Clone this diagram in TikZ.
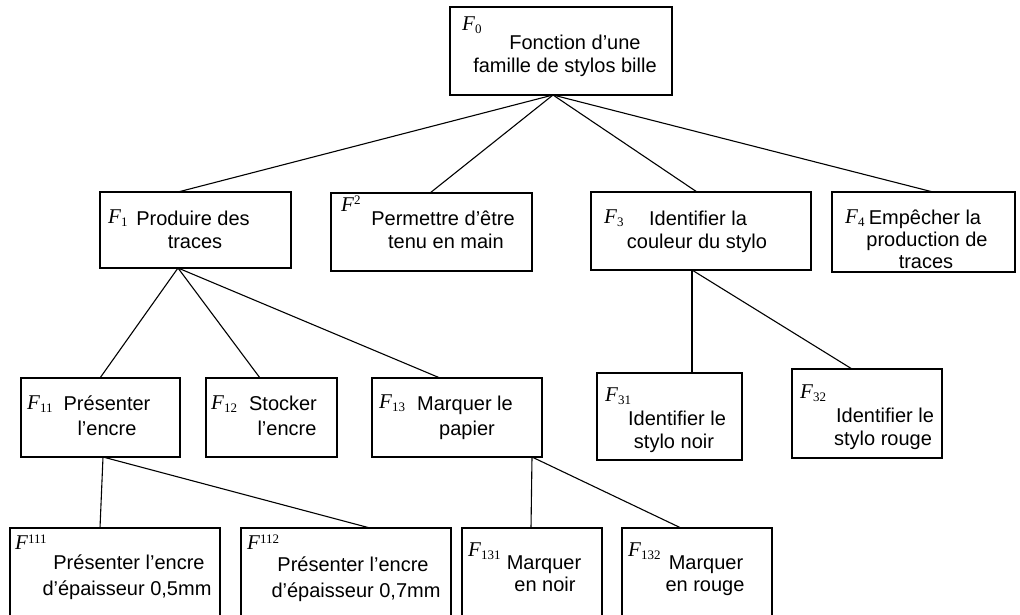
\documentclass[tikz,border=0pt]{standalone}
\usepackage{fontspec}
\setmainfont{Liberation Sans}
\newfontfamily\serf{Liberation Serif}
\usetikzlibrary{fit}
\newcommand{\FL}[2]{{\serf\itshape F}\raisebox{#2}{\serf\fontsize{13}{13}\selectfont #1}}
\begin{document}
\begin{tikzpicture}[x=1pt,y=-1pt,
  box/.style={draw, line width=1.1pt, inner sep=0pt},
  link/.style={line width=1.1pt},
  txt/.style={inner sep=0pt, anchor=base, font=\fontsize{20}{23}\selectfont},
  lab/.style={inner sep=0pt, anchor=base west, font=\fontsize{21}{21}\selectfont}]
\clip (0,0) rectangle (1020,615);
\fill[white] (0,0) rectangle (1020,615);
% boxes
\node[box, fit={(450,7) (672,95)}] (F0) {};
\node[box, fit={(100,192) (291,268)}] (F1) {};
\node[box, fit={(331,193) (532,271)}] (F2) {};
\node[box, fit={(591,192) (811,270)}] (F3) {};
\node[box, fit={(832,192) (1015,272)}] (F4) {};
\node[box, fit={(21,378) (180,457)}] (F11) {};
\node[box, fit={(206,378) (337,457)}] (F12) {};
\node[box, fit={(372,378) (542,457)}] (F13) {};
\node[box, fit={(597,373) (742,460)}] (F31) {};
\node[box, fit={(792,369) (942,458)}] (F32) {};
\node[box, fit={(10,528) (220,630)}] (F111) {};
\node[box, fit={(241,528) (451,630)}] (F112) {};
\node[box, fit={(462,528) (602,630)}] (F131) {};
\node[box, fit={(622,528) (772,630)}] (F132) {};
% labels
\node[lab] (L0) at (462,31) {\FL{0}{-3pt}};
\node[lab] (L1) at (108,223) {\FL{1}{-3pt}};
\node[lab] (L2) at (341,211) {\FL{2}{6pt}};
\node[lab] (L3) at (604,223) {\FL{3}{-3pt}};
\node[lab] (L4) at (845,223) {\FL{4}{-3pt}};
\node[lab] (L11) at (27,409) {\FL{11}{-3pt}};
\node[lab] (L12) at (211,409) {\FL{12}{-3pt}};
\node[lab] (L13) at (379,408) {\FL{13}{-3pt}};
\node[lab] (L31) at (605,401) {\FL{31}{-3pt}};
\node[lab] (L32) at (800,398) {\FL{32}{-3pt}};
\node[lab] (L111) at (15,549) {\FL{111}{6pt}};
\node[lab] (L112) at (247,549) {\FL{112}{6pt}};
\node[lab] (L131) at (468,556) {\FL{131}{-3pt}};
\node[lab] (L132) at (628,556) {\FL{132}{-3pt}};
% texts
\node[txt] (T0a) at (575,50) {Fonction d'une};
\node[txt] (T0b) at (565,73) {famille de stylos bille};
\node[txt] (T1a) at (193,225) {Produire des};
\node[txt] (T1b) at (195,248) {traces};
\node[txt] (T2a) at (443,225) {Permettre d'être};
\node[txt] (T2b) at (446,248) {tenu en main};
\node[txt] (T3a) at (698,225) {Identifier la};
\node[txt] (T3b) at (697,248) {couleur du stylo};
\node[txt] (T4a) at (925,224) {Empêcher la};
\node[txt] (T4b) at (927,246) {production de};
\node[txt] (T4c) at (926,268) {traces};
\node[txt] (T11a) at (107,410) {Présenter};
\node[txt] (T11b) at (107,435) {l'encre};
\node[txt] (T12a) at (283,410) {Stocker};
\node[txt] (T12b) at (287,435) {l'encre};
\node[txt] (T13a) at (465,410) {Marquer le};
\node[txt] (T13b) at (467,435) {papier};
\node[txt] (T31a) at (677,425) {Identifier le};
\node[txt] (T31b) at (674,448) {stylo noir};
\node[txt] (T32a) at (885,422) {Identifier le};
\node[txt] (T32b) at (883,445) {stylo rouge};
\node[txt] (T111a) at (129,569) {Présenter l'encre};
\node[txt] (T111b) at (127,595) {d'épaisseur 0,5mm};
\node[txt] (T112a) at (353,571) {Présenter l'encre};
\node[txt] (T112b) at (356,597) {d'épaisseur 0,7mm};
\node[txt] (T131a) at (544,569) {Marquer};
\node[txt] (T131b) at (545,591) {en noir};
\node[txt] (T132a) at (706,569) {Marquer};
\node[txt] (T132b) at (705,591) {en rouge};
% connection points
\coordinate (c0) at (553,95);
\coordinate (c1t) at (178,192);
\coordinate (c2t) at (430,193);
\coordinate (c3t) at (697,192);
\coordinate (c4t) at (933,192);
\coordinate (c1b) at (178,268);
\coordinate (c11t) at (100,378);
\coordinate (c12t) at (260,378);
\coordinate (c13t) at (440,378);
\coordinate (c3b) at (692,270);
\coordinate (c31t) at (692,373);
\coordinate (c32t) at (852,369);
\coordinate (c11b) at (103,457);
\coordinate (c111t) at (100,528);
\coordinate (c112t) at (370,528);
\coordinate (c13b) at (532,457);
\coordinate (c131t) at (531,528);
\coordinate (c132t) at (681,528);
\draw[link] (c0) -- (c1t);
\draw[link] (c0) -- (c2t);
\draw[link] (c0) -- (c3t);
\draw[link] (c0) -- (c4t);
\draw[link] (c1b) -- (c11t);
\draw[link] (c1b) -- (c12t);
\draw[link] (c1b) -- (c13t);
\draw[link] (c3b) -- (c31t);
\draw[link] (c3b) -- (c32t);
\draw[link] (c11b) -- (c111t);
\draw[link] (c11b) -- (c112t);
\draw[link] (c13b) -- (c131t);
\draw[link] (c13b) -- (c132t);
\end{tikzpicture}
\end{document}
